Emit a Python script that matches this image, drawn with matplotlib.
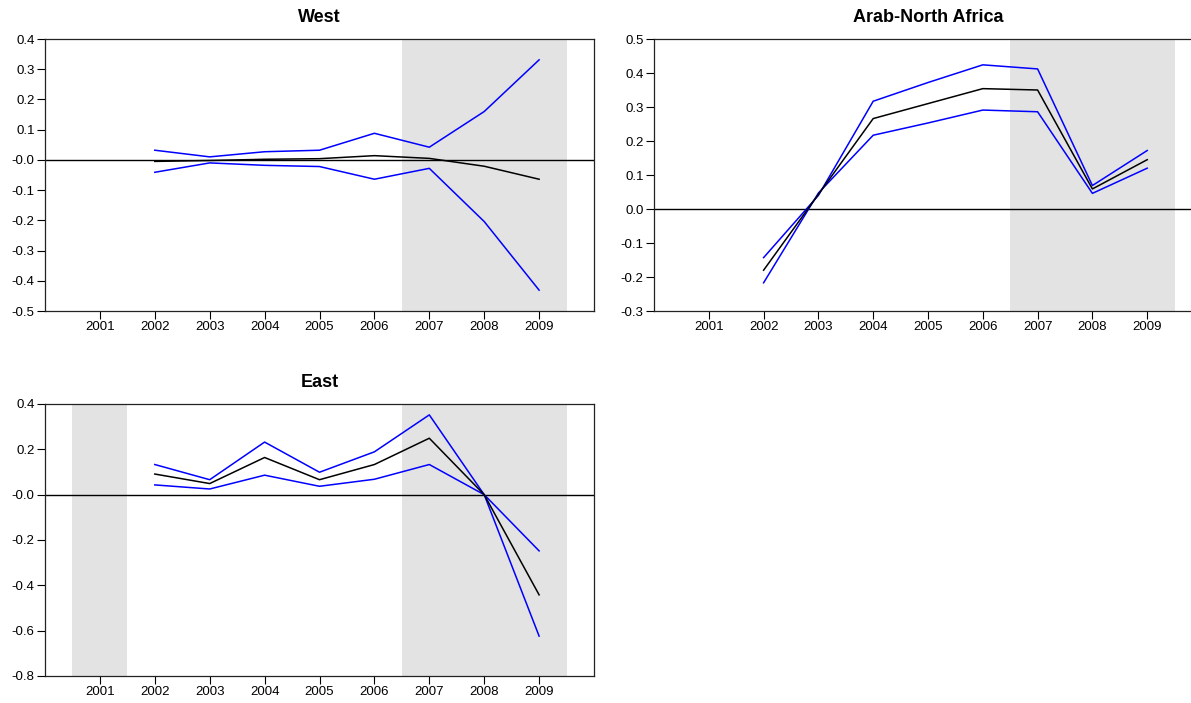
import numpy as np
import matplotlib
matplotlib.use("Agg")
import matplotlib.pyplot as plt
from matplotlib import font_manager

# pick a narrow Arial-like font if available
names = {f.name for f in font_manager.fontManager.ttflist}
if "Liberation Sans Narrow" in names:
    FONT = ["Liberation Sans Narrow", "DejaVu Sans"]
else:
    FONT = ["Liberation Sans", "DejaVu Sans"]
plt.rcParams['font.family'] = FONT

years = [2002, 2003, 2004, 2005, 2006, 2007, 2008, 2009]
tick_years = [2001, 2002, 2003, 2004, 2005, 2006, 2007, 2008, 2009]

# West
west_mid = [-0.005, -0.002, 0.002, 0.004, 0.014, 0.005, -0.021, -0.064]
west_hi = [0.032, 0.010, 0.027, 0.032, 0.088, 0.042, 0.160, 0.331]
west_lo = [-0.041, -0.010, -0.018, -0.022, -0.064, -0.028, -0.204, -0.431]
west_yticks = [0.4, 0.3, 0.2, 0.1, 0.0, -0.1, -0.2, -0.3, -0.4, -0.5]
west_ylabels = ["0.4", "0.3", "0.2", "0.1", "-0.0", "-0.1", "-0.2", "-0.3", "-0.4", "-0.5"]
west_shade = [(2006.5, 2009.5)]

# Arab-North Africa
arab_mid = [-0.180, 0.043, 0.266, 0.310, 0.354, 0.350, 0.059, 0.145]
arab_hi = [-0.143, 0.040, 0.317, 0.372, 0.424, 0.412, 0.069, 0.172]
arab_lo = [-0.217, 0.047, 0.217, 0.253, 0.291, 0.286, 0.046, 0.120]
arab_yticks = [0.5, 0.4, 0.3, 0.2, 0.1, 0.0, -0.1, -0.2, -0.3]
arab_ylabels = ["0.5", "0.4", "0.3", "0.2", "0.1", "0.0", "-0.1", "-0.2", "-0.3"]
arab_shade = [(2006.5, 2009.5)]

# East
east_mid = [0.091, 0.049, 0.164, 0.066, 0.133, 0.249, 0.0, -0.442]
east_hi = [0.133, 0.066, 0.232, 0.099, 0.189, 0.352, 0.0, -0.248]
east_lo = [0.043, 0.025, 0.086, 0.037, 0.068, 0.133, 0.0, -0.624]
east_yticks = [0.4, 0.2, 0.0, -0.2, -0.4, -0.6, -0.8]
east_ylabels = ["0.4", "0.2", "-0.0", "-0.2", "-0.4", "-0.6", "-0.8"]
east_shade = [(2000.5, 2001.5), (2006.5, 2009.5)]

W, H = 1191, 703
fig = plt.figure(figsize=(W / 100, H / 100), dpi=100)


def px_axes(l, t, r, b):
    return fig.add_axes([l / W, 1 - b / H, (r - l) / W, (b - t) / H])


def panel(ax, title, mid, hi, lo, yticks, ylabels, shade):
    for a, b in shade:
        ax.axvspan(a, b, color="#e3e3e3", lw=0, zorder=0)
    ax.axhline(0, color="black", lw=1.0, zorder=1)
    ax.plot(years, hi, color="#0000ff", lw=1.1, zorder=2)
    ax.plot(years, lo, color="#0000ff", lw=1.1, zorder=2)
    ax.plot(years, mid, color="black", lw=1.1, zorder=3)
    ax.set_xlim(2000, 2010)
    ax.set_ylim(min(yticks), max(yticks))
    ax.set_xticks(tick_years)
    ax.set_xticklabels([str(y) for y in tick_years])
    ax.set_yticks(yticks)
    ax.set_yticklabels(ylabels)
    ax.tick_params(direction="out", length=5.5, width=0.8, labelsize=9.5, pad=2)
    for s in ax.spines.values():
        s.set_linewidth(0.9)
        s.set_color("#222222")
    ax.set_title(title, fontsize=13, fontweight="bold", pad=12,
                 family=["Liberation Sans", "DejaVu Sans"])


ax1 = px_axes(45, 39, 594, 311)
panel(ax1, "West", west_mid, west_hi, west_lo, west_yticks, west_ylabels, west_shade)

ax2 = px_axes(654, 39, 1202, 311)
panel(ax2, "Arab-North Africa", arab_mid, arab_hi, arab_lo, arab_yticks, arab_ylabels, arab_shade)

ax3 = px_axes(45, 404, 594, 676)
panel(ax3, "East", east_mid, east_hi, east_lo, east_yticks, east_ylabels, east_shade)

fig.savefig("out.png", dpi=100)
